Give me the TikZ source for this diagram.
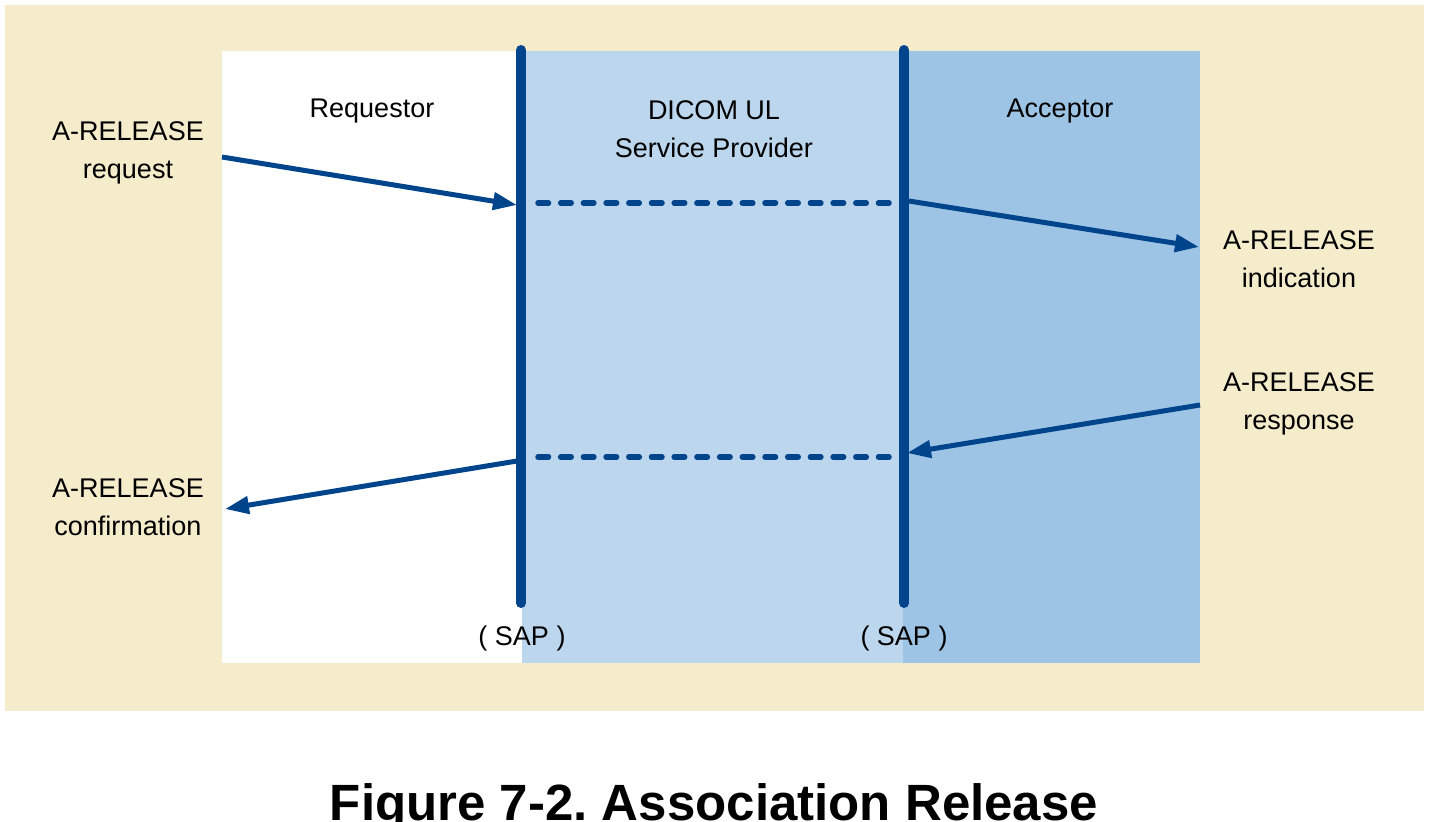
\documentclass[tikz,border=0pt]{standalone}
\usepackage{fontspec}
\setmainfont{Liberation Sans}
\usetikzlibrary{arrows.meta}
\definecolor{beige}{RGB}{245,236,204}
\definecolor{lightblue}{RGB}{188,214,238}
\definecolor{midblue}{RGB}{157,195,229}
\definecolor{lineblue}{RGB}{0,69,139}
\tikzset{
  label/.style={align=center, font=\fontsize{27}{38}\selectfont, inner sep=0pt},
  sap/.style={line width=10pt, lineblue, line cap=round},
  msg/.style={line width=5pt, lineblue, -{Triangle[length=24pt,width=17pt]}},
  relay/.style={line width=5.5pt, lineblue, line cap=round, dash pattern=on 10.5pt off 12.2pt}
}
\begin{document}
\frenchspacing
\begin{tikzpicture}[x=1pt,y=-1pt]
  \useasboundingbox[fill=white] (0,0) rectangle (1438,822);
  % Background
  \fill[beige] (5,5) rectangle (1424,711);
  \fill[white] (222,51) rectangle (522,663);
  \fill[lightblue] (522,51) rectangle (903,663);
  \fill[midblue] (903,51) rectangle (1200,663);
  % Headings
  \node[label] (req) at (372,111) {Requestor};
  \node[label] (prov) at (714,129) {DICOM UL\\Service Provider};
  \node[label] (acc) at (1060,111) {Acceptor};
  % Service access points
  \coordinate (l1) at (521,50);
  \coordinate (l2) at (521,603);
  \coordinate (r1) at (904,50);
  \coordinate (r2) at (904,603);
  \draw[sap] (l1) -- (l2);
  \draw[sap] (r1) -- (r2);
  \node[label] (sapl) at (522,639) {( SAP )};
  \node[label] (sapr) at (904,639) {( SAP )};
  % Primitives
  \node[label] (request) at (128,153) {A-RELEASE\\request};
  \node[label] (indication) at (1299,259) {A-RELEASE\\indication};
  \node[label] (response) at (1299,404) {A-RELEASE\\response};
  \node[label] (confirm) at (128,507) {A-RELEASE\\confirmation};
  % Arrows
  \coordinate (a1) at (222,157);
  \coordinate (a2) at (517,205);
  \coordinate (b1) at (909,201);
  \coordinate (b2) at (1199,247);
  \coordinate (c1) at (1200,405);
  \coordinate (c2) at (907,453);
  \coordinate (d1) at (517,461);
  \coordinate (d2) at (225,509);
  \draw[msg] (a1) -- (a2);
  \draw[msg] (b1) -- (b2);
  \draw[msg] (c1) -- (c2);
  \draw[msg] (d1) -- (d2);
  \draw[relay] (538,203) -- (892,203);
  \draw[relay] (538,457) -- (892,457);
  % Caption
  \node[font=\fontsize{51}{60}\selectfont\bfseries, anchor=base] (title) at (714,820) {Figure 7-2. Association Release};
\end{tikzpicture}
\end{document}
